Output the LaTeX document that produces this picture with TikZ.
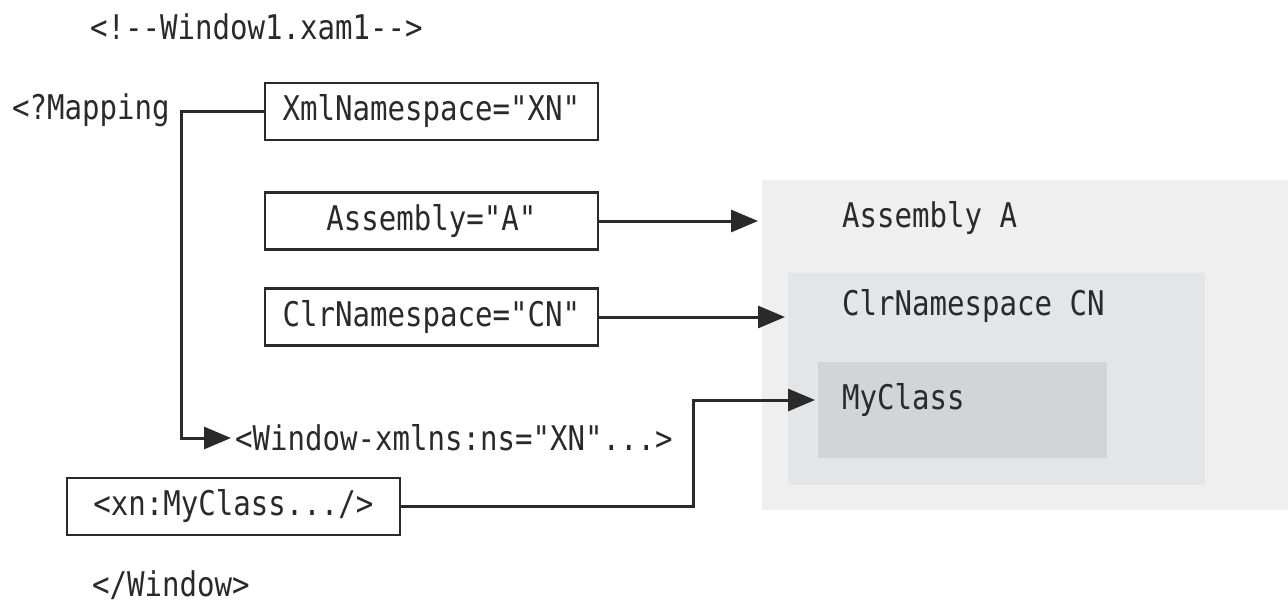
\documentclass[tikz,border=0pt]{standalone}
\usepackage{fontspec}
\newfontfamily\monof[FakeStretch=0.855]{DejaVu Sans Mono}
\usetikzlibrary{arrows.meta}
\definecolor{grayA}{HTML}{EFEFEF}
\definecolor{grayB}{HTML}{E4E5E6}
\definecolor{grayC}{HTML}{D3D4D6}
\definecolor{ink}{HTML}{2A2A2A}
\begin{document}
\begin{tikzpicture}[x=1pt,y=-1pt,
  every node/.style={font=\monof\fontsize{34}{38}\selectfont, text=ink},
  codebox/.style={draw=ink, line width=2.5pt, minimum width=333pt, minimum height=57pt, inner sep=0pt, fill=white},
  arr/.style={line width=3pt, draw=ink, -{Triangle[length=27pt,width=22pt]}},
  lbl/.style={anchor=west, inner sep=0pt},
  area/.style={anchor=north west, inner sep=0pt, draw=none},
]
\useasboundingbox (0,0) rectangle (1288,611);
% grey areas
\node[area, fill=grayA, minimum width=526pt, minimum height=330pt] (asmbox) at (762,180) {};
\node[area, fill=grayB, minimum width=417pt, minimum height=212pt] (nsbox) at (788,273) {};
\node[area, fill=grayC, minimum width=289pt, minimum height=96pt] (clsbox) at (818,362) {};
\node[lbl] (asmA) at (842,218) {Assembly A};
\node[lbl] (nsCN) at (842,306) {ClrNamespace CN};
\node[lbl] (mycls) at (842,400) {MyClass};
% texts
\node[lbl] (comment) at (90,27) {<!--Window1.xam1-->};
\node[lbl] (mapping) at (12,110) {<?Mapping};
\node[lbl] (win) at (235,438) {<Window-xmlns:ns="XN"...>};
\node[lbl] (endwin) at (92,585) {</Window>};
% boxes
\node[codebox] (xml) at (431.5,111.5) {XmlNamespace="XN"};
\node[codebox] (asm) at (431.5,221) {Assembly="A"};
\node[codebox] (clr) at (431.5,317) {ClrNamespace="CN"};
\node[codebox] (xn) at (233.5,506.5) {<xn:MyClass.../>};
% connectors
\draw[arr] (xml.west) -- ++(-82pt,0) |- ([xshift=-4pt]win.west);
\draw[arr, shorten >=4pt] (asm.east) -- (asmbox.west |- asm.east);
\draw[arr, shorten >=3pt] (clr.east) -- (nsbox.west |- clr.east);
\draw[arr, shorten >=3pt] (xn.east) -- ++(292pt,0) |- (clsbox.west |- mycls.east);
\end{tikzpicture}
\end{document}
